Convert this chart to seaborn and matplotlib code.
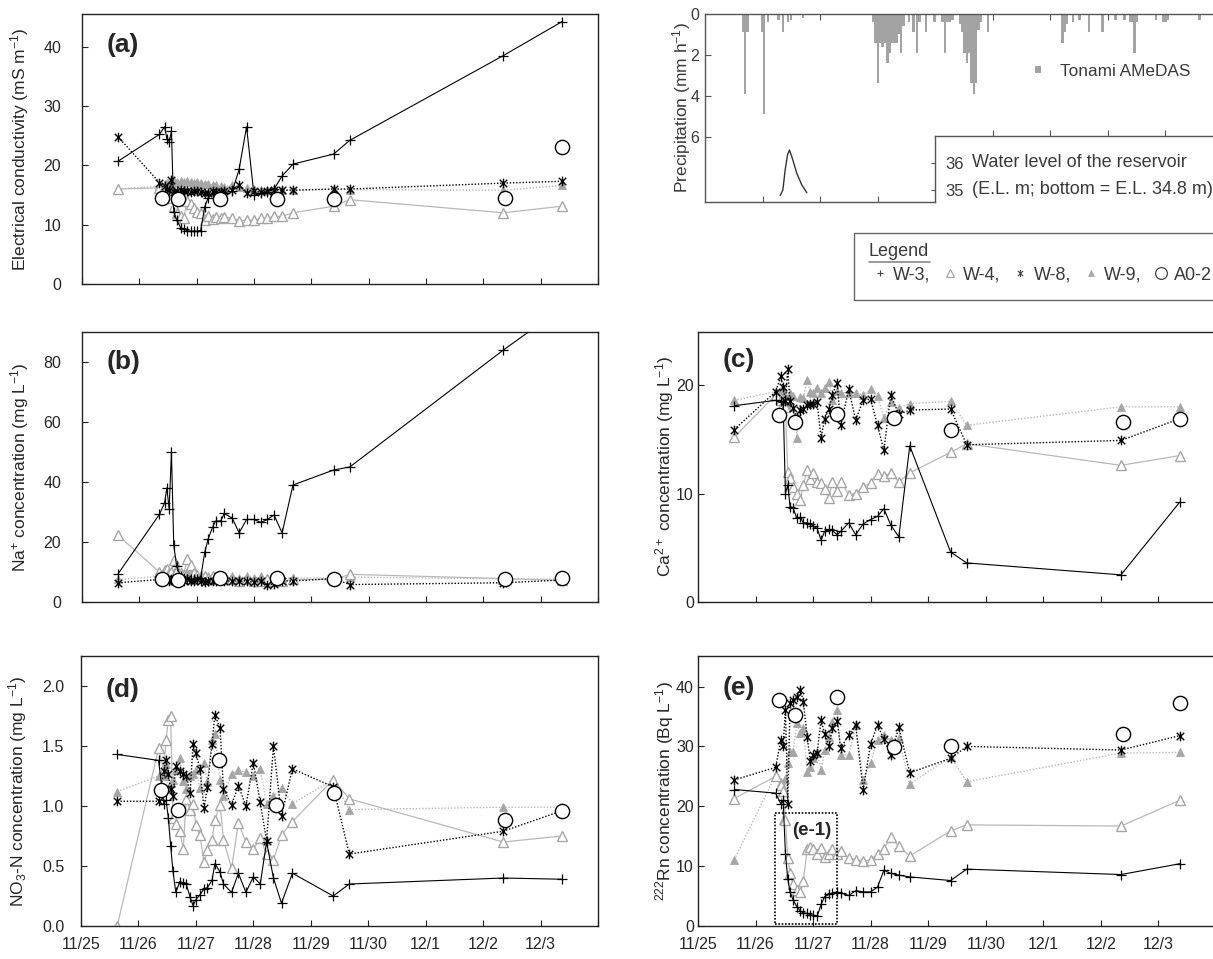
import matplotlib
matplotlib.use('Agg')
import matplotlib.pyplot as plt
from matplotlib.path import Path
from matplotlib.lines import Line2D
from matplotlib.patches import Rectangle, Patch
from matplotlib.ticker import FormatStrFormatter
import seaborn as sns

# sampling times, days after 11/25 0:00
t_well = [0.63, 1.35, 1.44, 1.48, 1.52, 1.56, 1.60, 1.65, 1.72, 1.78, 1.83, 1.90, 1.95, 2.00, 2.07,
          2.14, 2.20, 2.28, 2.33, 2.42, 2.48, 2.62, 2.74, 2.87, 3.00, 3.12, 3.23, 3.35, 3.49, 3.68,
          4.39, 4.67, 7.35, 8.37]
t_a02 = [1.40, 1.68, 2.41, 3.40, 4.40, 7.38, 8.37]
date_labels = ['11/25', '11/26', '11/27', '11/28', '11/29', '11/30', '12/1', '12/2', '12/3', '']

# (a) electrical conductivity, mS/m
ec_w3 = [20.7, 25.2, 26.5, 24.5, 24.0, 25.7, 12.2, 10.8, 9.5, 9.2, 9.0, 8.9, 8.9, 8.9, 9.0, 13.0, 14.5,
         15.2, 15.3, 15.3, 15.4, 15.6, 19.3, 26.5, 15.0, 15.3, 15.5, 16.0, 18.2, 20.2, 21.9, 24.2, 38.5, 44.2]
ec_w4 = [16.0, 16.2, 16.5, 16.3, 15.5, 14.5, 13.2, 12.0, 11.4, 11.2, 13.9, 13.5, 12.8, 12.2, 12.0, 10.8,
         11.5, 11.0, 11.3, 11.2, 11.3, 11.1, 10.6, 10.8, 10.7, 11.1, 11.1, 11.4, 11.4, 12.0, 13.1, 14.2, 12.0, 13.1]
ec_w8 = [24.8, 17.1, 16.5, 16.0, 15.8, 17.6, 15.5, 15.6, 15.8, 15.7, 15.6, 15.5, 15.6, 15.7, 15.5, 15.3,
         15.4, 15.6, 15.5, 15.5, 15.6, 15.9, 16.7, 15.3, 15.6, 15.5, 15.7, 15.8, 15.8, 15.8, 16.0, 16.0, 17.0, 17.3]
ec_w9 = [16.0, 16.5, 16.8, 17.0, 17.2, 17.0, 17.3, 17.2, 17.4, 17.2, 17.3, 17.2, 17.1, 17.2, 17.0, 16.9,
         16.8, 16.7, 16.6, 16.5, 16.4, 16.7, 16.3, 16.2, 16.0, 15.9, 15.9, 16.0, 15.9, 15.8, 16.0, 15.9, 15.8, 16.6]
ec_a02 = [14.5, 14.4, 14.4, 14.4, 14.4, 14.5, 23.1]

# (b) Na+, mg/L
na_w3 = [9.4, 29.2, 33.0, 38.0, 31.0, 50.0, 19.0, 12.0, 8.5, 8.0, 7.5, 7.5, 7.5, 7.5, 8.0, 16.5, 21.0,
         25.0, 27.0, 27.0, 29.5, 28.0, 23.0, 27.5, 27.5, 26.5, 27.5, 29.0, 23.0, 39.0, 44.0, 45.0, 84.0, 98.0]
na_w4 = [22.2, 10.0, 10.5, 11.0, 9.5, 10.0, 14.0, 10.5, 9.5, 9.0, 14.4, 12.2, 9.5, 9.0, 8.5, 8.5, 8.0,
         8.5, 8.0, 8.0, 7.5, 7.5, 7.0, 7.5, 7.0, 7.0, 7.5, 7.0, 7.0, 7.5, 7.5, 9.2, 7.8, 7.2]
na_w8 = [6.4, 7.5, 8.0, 7.5, 7.0, 7.5, 7.0, 7.5, 7.5, 7.0, 7.5, 7.0, 7.0, 7.5, 7.0, 6.5, 7.0,
         7.0, 7.0, 7.5, 7.0, 7.0, 7.0, 7.0, 6.5, 7.0, 5.6, 6.0, 7.0, 7.0, 7.8, 5.8, 6.4, 7.3]
na_w9 = [7.5, 8.5, 9.0, 9.5, 10.0, 9.5, 10.0, 9.5, 10.0, 9.5, 10.0, 9.5, 9.0, 9.0, 9.0, 8.5, 8.5,
         9.0, 8.5, 8.5, 8.0, 8.5, 8.0, 8.5, 8.0, 8.5, 8.0, 8.0, 8.0, 8.0, 8.0, 8.3, 7.7, 7.6]
na_a02 = [7.8, 7.4, 8.0, 8.0, 7.6, 7.8, 8.0]

# (c) Ca2+, mg/L
ca_w3 = [18.1, 18.6, 18.5, 18.4, 10.0, 10.8, 8.8, 8.7, 7.7, 7.8, 7.3, 7.3, 7.2, 7.0, 6.8, 5.7, 6.5,
         6.7, 6.6, 6.2, 6.5, 7.3, 6.2, 7.2, 7.6, 7.9, 8.6, 7.1, 6.0, 14.4, 4.6, 3.6, 2.5, 9.2]
ca_w4 = [15.2, 19.1, 18.6, 18.3, 18.0, 12.0, 11.4, 10.6, 10.0, 9.4, 10.8, 12.2, 11.3, 11.9, 11.1, 11.0,
         10.4, 9.6, 11.1, 10.2, 11.1, 9.9, 10.0, 10.6, 11.0, 11.8, 11.6, 11.9, 11.1, 11.9, 13.8, 14.6, 12.6, 13.5]
ca_w8 = [15.9, 19.4, 20.8, 19.8, 18.5, 21.5, 18.5, 17.9, 17.0, 17.7, 17.8, 18.2, 18.3, 18.3, 18.4, 15.1,
         16.9, 17.8, 19.1, 20.2, 16.3, 19.6, 16.8, 18.6, 18.7, 16.3, 14.0, 19.1, 17.3, 17.7, 17.8, 14.5, 14.9, 16.9]
ca_w9 = [18.6, 19.4, 19.5, 19.7, 19.0, 18.0, 19.3, 19.0, 15.1, 18.9, 18.8, 20.5, 19.4, 19.3, 19.7, 19.3,
         19.7, 20.3, 18.6, 19.5, 19.3, 19.3, 19.3, 19.1, 19.6, 19.0, 17.0, 18.4, 17.9, 18.3, 18.5, 16.3, 18.0, 18.0]
ca_a02 = [17.2, 16.6, 17.3, 17.0, 15.9, 16.6, 16.9]

# (d) NO3-N, mg/L
no3_w3 = [1.43, 1.38, 1.02, 1.05, 0.90, 0.67, 0.46, 0.28, 0.37, 0.36, 0.35, 0.24, 0.17, 0.22, 0.26, 0.31,
          0.32, 0.38, 0.52, 0.45, 0.35, 0.28, 0.44, 0.28, 0.41, 0.35, 0.70, 0.40, 0.19, 0.44, 0.25, 0.35, 0.40, 0.39]
no3_w4 = [0.0, 1.48, 1.30, 1.55, 1.72, 1.75, 0.90, 0.85, 0.79, 0.64, 1.06, 0.97, 1.02, 0.84, 0.76, 0.53,
          0.63, 0.72, 0.88, 1.01, 0.72, 0.48, 0.86, 0.70, 0.64, 0.73, 0.60, 0.55, 0.76, 0.87, 1.22, 1.06, 0.70, 0.75]
no3_w8 = [1.04, 1.04, 1.29, 1.38, 1.27, 1.14, 1.08, 1.33, 1.29, 1.27, 1.25, 1.11, 1.52, 1.44, 1.31, 0.98,
          1.16, 1.52, 1.76, 1.65, 1.14, 1.01, 1.17, 1.00, 1.36, 1.03, 0.71, 1.50, 0.92, 1.31, 1.16, 0.60, 0.79, 0.96]
no3_w9 = [1.12, 1.25, 1.25, 1.35, 1.15, 1.19, 1.22, 1.30, 1.40, 1.21, 1.14, 1.25, 1.27, 1.30, 1.15, 1.36,
          1.20, 1.55, 1.60, 1.22, 1.08, 1.27, 1.30, 1.28, 1.25, 1.31, 1.02, 1.08, 1.15, 1.02, 1.22, 0.97, 0.99, 0.99]
no3_a02 = [1.13, 0.97, 1.38, 1.01, 1.11, 0.88, 0.96]

# (e) 222Rn, Bq/L
rn_w3 = [22.8, 22.2, 20.4, 21.0, 12.1, 7.9, 5.7, 4.4, 3.2, 2.5, 2.2, 2.1, 1.9, 1.8, 1.6, 3.6, 4.9,
         5.3, 5.5, 5.7, 5.5, 5.1, 5.9, 5.7, 5.7, 6.5, 9.3, 8.8, 8.5, 8.2, 7.6, 9.5, 8.6, 10.4]
rn_w4 = [21.3, 25.0, 23.5, 22.5, 17.7, 11.3, 8.8, 7.1, 6.0, 5.7, 7.6, 12.8, 13.2, 12.8, 12.1, 13.0,
         11.6, 12.1, 12.8, 12.1, 12.5, 11.4, 11.1, 10.9, 11.0, 12.1, 12.9, 14.9, 13.3, 11.7, 15.9, 16.9, 16.7, 21.0]
rn_w8 = [24.4, 26.5, 31.1, 30.1, 36.1, 20.4, 37.2, 37.7, 38.2, 39.5, 37.5, 31.5, 27.5, 28.6, 28.9, 34.5,
         32.1, 30.0, 33.0, 34.3, 29.7, 31.9, 33.6, 22.8, 30.4, 33.6, 31.2, 28.6, 33.2, 25.6, 28.0, 30.0, 29.4, 31.8]
rn_w9 = [11.1, 25.2, 24.0, 17.7, 24.5, 27.2, 29.1, 29.1, 33.9, 32.2, 33.0, 25.8, 26.6, 28.0, 28.9, 26.1,
         29.4, 31.6, 34.0, 36.1, 28.6, 28.6, 33.6, 24.4, 27.3, 31.1, 31.9, 31.1, 31.4, 23.7, 28.3, 24.1, 28.9, 29.0]
rn_a02 = [37.8, 35.3, 38.3, 29.9, 30.0, 32.1, 37.3]

# hourly precipitation at Tonami AMeDAS (mm/h)
rain_day = [0.66, 0.70, 0.74, 0.99, 1.03, 1.10, 1.28, 1.36, 1.44, 1.49, 1.70,
            2.925, 2.965, 3.005, 3.046, 3.087, 3.127, 3.168, 3.208, 3.249, 3.289, 3.33, 3.37, 3.41, 3.45,
            3.55, 3.62, 3.68, 3.73, 3.84, 3.99, 4.13, 4.17, 4.21, 4.25, 4.30,
            4.43, 4.47, 4.51, 4.55, 4.59, 4.63, 4.67, 4.71, 4.75, 4.79, 4.92,
            6.21, 6.25, 6.29, 6.39, 6.51, 6.67, 6.91, 7.13, 7.29, 7.38, 7.42, 7.46, 7.50, 7.84, 7.96, 8.00, 8.04, 8.59]
rain_mm = [0.9, 3.9, 0.9, 0.9, 4.9, 0.4, 0.3, 0.9, 0.4, 0.3, 0.2,
           0.4, 1.4, 3.4, 1.4, 1.6, 1.4, 2.4, 1.9, 1.4, 1.4, 1.4, 1.0, 1.9, 0.6,
           0.4, 0.9, 1.9, 0.4, 0.9, 0.4, 0.4, 1.9, 0.4, 0.4, 0.3,
           0.5, 0.9, 1.9, 2.4, 1.9, 3.4, 3.9, 3.4, 0.8, 0.4, 0.9,
           1.4, 0.9, 0.5, 0.4, 0.3, 0.9, 0.9, 0.3, 0.3, 0.4, 0.4, 1.9, 0.4, 0.3, 0.4, 0.4, 0.3, 0.3]

# reservoir water level (E.L. m)
wl_day = [1.306, 1.353, 1.393, 1.434, 1.468, 1.509, 1.595, 1.682, 1.769]
wl_m = [34.79, 35.0, 35.74, 36.3, 36.48, 36.23, 35.62, 35.19, 34.9]

sns.set_style('ticks')
plt.rcParams['font.family'] = ['Liberation Sans', 'DejaVu Sans']
plt.rcParams['mathtext.default'] = 'regular'

GRAY = '#a6a6a6'
LGRAY = '#b8b8b8'
asterisk = Path([(-1, -1), (1, 1), (-1, 1), (1, -1), (0, -1.3), (0, 1.3)],
                [Path.MOVETO, Path.LINETO, Path.MOVETO, Path.LINETO, Path.MOVETO, Path.LINETO])
dots = (0, (1, 1.3))

styles = {
    'W-9': dict(color=LGRAY, marker='^', ms=5.5, mew=0.6, mec=GRAY, mfc=GRAY, linestyle=dots, lw=1.0, zorder=2),
    'W-4': dict(color=LGRAY, marker='^', ms=6.5, mew=1.0, mec=GRAY, mfc='white', linestyle='-', lw=0.9, zorder=2.5),
    'W-8': dict(color='black', marker=asterisk, ms=7, mew=1.0, mec='black', linestyle=dots, lw=1.0, zorder=3),
    'W-3': dict(color='black', marker='+', ms=7, mew=0.9, mec='black', linestyle='-', lw=0.8, zorder=3.5),
}

fig = plt.figure(figsize=(12.13, 9.59), dpi=100)


def draw_panel(rect, series, a02, ylim, yticks, ylabel, tag, tag_y, label_x, pad, dates=False, fmt='%d'):
    ax = fig.add_axes(rect)
    for well in ['W-9', 'W-4', 'W-8', 'W-3']:
        sns.lineplot(x=t_well, y=series[well], ax=ax, sort=False, estimator=None, **styles[well])
    sns.scatterplot(x=t_a02, y=a02, ax=ax, marker='o', s=105, color='white',
                    edgecolor='black', linewidth=1.0, zorder=6)
    ax.set_xlim(0, 9)
    ax.set_xticks(range(10))
    ax.set_xticklabels(date_labels if dates else [])
    ax.set_ylim(*ylim)
    ax.set_yticks(yticks)
    ax.yaxis.set_major_formatter(FormatStrFormatter(fmt))
    ax.tick_params(axis='both', direction='in', length=4, width=0.8, labelsize=11.5, color='#222')
    ax.tick_params(axis='y', pad=pad)
    ax.tick_params(axis='x', pad=8)
    ax.set_xlabel('')
    ax.set_ylabel(ylabel, fontsize=12.5)
    ax.yaxis.set_label_coords(label_x, 0.5)
    for sp in ax.spines.values():
        sp.set_color('#222')
        sp.set_linewidth(1)
    ax.text(0.048, tag_y, tag, transform=ax.transAxes, fontsize=19, fontweight='bold',
            va='center', ha='left')
    return ax


draw_panel([0.0676, 0.7039, 0.4254, 0.2815],
           {'W-3': ec_w3, 'W-4': ec_w4, 'W-8': ec_w8, 'W-9': ec_w9}, ec_a02,
           (0, 45.5), [0, 10, 20, 30, 40], 'Electrical conductivity (mS m$^{-1}$)',
           '(a)', 0.885, -0.099, 15)
draw_panel([0.0676, 0.3723, 0.4254, 0.2815],
           {'W-3': na_w3, 'W-4': na_w4, 'W-8': na_w8, 'W-9': na_w9}, na_a02,
           (0, 90), [0, 20, 40, 60, 80], 'Na$^{+}$ concentration (mg L$^{-1}$)',
           '(b)', 0.889, -0.099, 15)
draw_panel([0.0668, 0.0344, 0.4262, 0.2815],
           {'W-3': no3_w3, 'W-4': no3_w4, 'W-8': no3_w8, 'W-9': no3_w9}, no3_a02,
           (0, 2.25), [0, 0.5, 1.0, 1.5, 2.0], 'NO$_{3}$-N concentration (mg L$^{-1}$)',
           '(d)', 0.874, -0.10, 12, dates=True, fmt='%.1f')
draw_panel([0.5754, 0.3723, 0.4270, 0.2815],
           {'W-3': ca_w3, 'W-4': ca_w4, 'W-8': ca_w8, 'W-9': ca_w9}, ca_a02,
           (0, 24.9), [0, 10, 20], 'Ca$^{2+}$ concentration (mg L$^{-1}$)',
           '(c)', 0.896, -0.042, 3)
ax_e = draw_panel([0.5754, 0.0344, 0.4270, 0.2815],
                  {'W-3': rn_w3, 'W-4': rn_w4, 'W-8': rn_w8, 'W-9': rn_w9}, rn_a02,
                  (0, 45.1), [0, 10, 20, 30, 40], '$^{222}$Rn concentration (Bq L$^{-1}$)',
                  '(e)', 0.881, -0.042, 3, dates=True)
ax_e.add_patch(Rectangle((1.34, 0.4), 1.08, 18.4, fill=False, edgecolor='black',
                         linestyle=(0, (1, 1)), lw=1.2, zorder=7))
ax_e.text(1.975, 16.0, '(e-1)', fontsize=13.5, fontweight='bold', ha='center', va='center', zorder=8)

# precipitation and water level panel
TXT = '#3a3a3a'
ax_p = fig.add_axes([0.5812, 0.7894, 0.4270, 0.1960])
ax_p.bar(rain_day, rain_mm, width=1 / 24, color='#a3a3a3', linewidth=0)
ax_p.set_xlim(0, 9)
ax_p.set_ylim(9.2, 0)
ax_p.set_xticks(range(1, 9))
ax_p.set_xticklabels([])
ax_p.set_yticks([0, 2, 4, 6])
ax_p.tick_params(axis='both', direction='in', length=4, width=0.8, labelsize=11.5,
                 color='#555', labelcolor=TXT, top=True, bottom=False, pad=4)
ax_p.set_ylabel('Precipitation (mm h$^{-1}$)', fontsize=12.5, color=TXT)
ax_p.yaxis.set_label_coords(-0.024, 0.5)
ax_p.spines['right'].set_visible(False)
ax_p.spines['bottom'].set_bounds(0, 4.0)
for sp in ax_p.spines.values():
    sp.set_color('#555')
    sp.set_linewidth(1)
# bottom ticks only along the visible part of the bottom spine
sec = ax_p.secondary_xaxis('bottom')
sec.set_xticks([1, 2, 3])
sec.set_xticklabels([])
sec.tick_params(direction='in', length=4, width=0.8, color='#555')
sec.spines['bottom'].set_visible(False)
ax_p.legend(handles=[Patch(facecolor='#a3a3a3', edgecolor='none')], labels=['Tonami AMeDAS'],
            loc='center left', bbox_to_anchor=(1034.5 / 1213, 1 - 71 / 959),
            bbox_transform=fig.transFigure, frameon=False, fontsize=12.4, labelcolor=TXT,
            handlelength=0.4, handleheight=0.3, handletextpad=1.1, borderpad=0, borderaxespad=0)

ax_w = ax_p.twinx()
sns.lineplot(x=wl_day, y=wl_m, ax=ax_w, color='#333', lw=1.0, sort=False, estimator=None)
ax_w.set_ylim(34.556, 41.52)
ax_w.set_axis_off()

ax_in = fig.add_axes([0.7708, 0.7894, 0.2374, 0.0688])
ax_in.set_zorder(ax_w.get_zorder() + 2)
ax_in.set_facecolor('white')
ax_in.set_xlim(4.0, 9.0)
ax_in.set_ylim(34.556, 37.0)
ax_in.set_xticks([5, 6, 7, 8])
ax_in.set_yticks([35, 36])
ax_in.tick_params(axis='x', direction='out', length=4, width=0.8, color='#555',
                  bottom=False, top=True, labelbottom=False, labeltop=False)
ax_in.tick_params(axis='y', direction='out', length=3, width=0.8, color='#555',
                  labelsize=12, labelcolor=TXT, pad=-10.5)
for lab in ax_in.get_yticklabels():
    lab.set_horizontalalignment('left')
ax_in.spines['bottom'].set_visible(False)
ax_in.spines['right'].set_visible(False)
for sp in ax_in.spines.values():
    sp.set_color('#555')
    sp.set_linewidth(1)
ax_in.text(4.64, 36, 'Water level of the reservoir', fontsize=13, color=TXT, va='center', ha='left')
ax_in.text(4.64, 35, '(E.L. m; bottom = E.L. 34.8 m)', fontsize=13, color=TXT, va='center', ha='left')

# shared legend box
fig.add_artist(Rectangle((854 / 1213, 1 - 300 / 959), 380 / 1213, 67 / 959, transform=fig.transFigure,
                         fill=False, edgecolor='#666', lw=1))
fig.text(869 / 1213, 1 - 251 / 959, 'Legend', fontsize=13, color=TXT, ha='left', va='center')
fig.add_artist(Line2D([869 / 1213, 930 / 1213], [1 - 262 / 959] * 2, transform=fig.transFigure,
                      color='#888', lw=1.2))
handles = [
    Line2D([], [], linestyle='none', marker='+', ms=5, mew=0.8, mec='#444'),
    Line2D([], [], linestyle='none', marker='^', ms=5.5, mew=0.9, mec=GRAY, mfc='white'),
    Line2D([], [], linestyle='none', marker=asterisk, ms=5, mew=0.8, mec='#444'),
    Line2D([], [], linestyle='none', marker='^', ms=4.5, mew=0.5, mec=GRAY, mfc=GRAY),
    Line2D([], [], linestyle='none', marker='o', ms=8.5, mew=0.9, mec='#444', mfc='white'),
]
fig.legend(handles, ['W-3,', 'W-4,', 'W-8,', 'W-9,', 'A0-2'], ncol=5, loc='center left',
           bbox_to_anchor=(874.6 / 1213, 1 - 275 / 959), frameon=False, fontsize=13,
           labelcolor=TXT, handlelength=0.6, handletextpad=0.42, columnspacing=0.8,
           borderpad=0, borderaxespad=0)

fig.savefig('out.png', dpi=100)
